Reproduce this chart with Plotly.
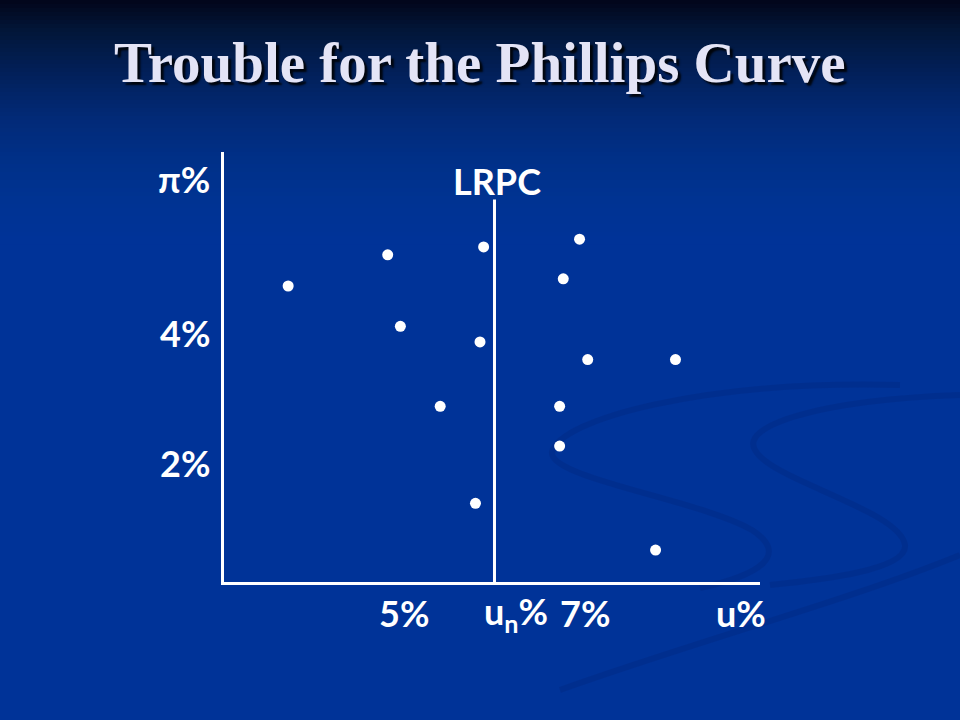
import plotly.graph_objects as go

# ---- data ----
unemployment = [3.72, 4.82, 5.88, 6.94, 6.76, 4.96, 5.84, 7.03, 8.00, 5.40, 6.72, 6.72, 5.79, 7.78]
inflation = [4.72, 5.20, 5.32, 5.44, 4.83, 4.10, 3.86, 3.59, 3.59, 2.87, 2.87, 2.26, 1.38, 0.66]

lrpc_u = 6.0
lrpc_top = 6.05

x_label_pos = [5.0, 6.24, 7.0, 8.72]
x_label_text = ["5%", "u<sub>n</sub>%", "7%", "u%"]
y_label_pos = [4.0, 2.0, 6.37]
y_label_text = ["4%", "2%", "π%"]

title_text = "Trouble for the Phillips Curve"

W, H = 960, 720
X_RANGE = [3.011, 8.934]
Y_RANGE = [0.17, 6.78]

fig = go.Figure()

# LRPC line
fig.add_trace(go.Scatter(
    x=[lrpc_u, lrpc_u], y=[Y_RANGE[0], lrpc_top], mode="lines",
    line=dict(color="white", width=3), hoverinfo="skip", showlegend=False))

# data points
fig.add_trace(go.Scatter(
    x=unemployment, y=inflation, mode="markers",
    marker=dict(color="white", size=11, line=dict(width=0)),
    showlegend=False))

# ---- background gradient (styling) ----
shapes = []
stops = [(0, (2, 5, 26)), (30, (2, 22, 56)), (60, (2, 29, 80)), (90, (2, 36, 101)),
         (120, (2, 42, 120)), (160, (0, 48, 136)), (200, (0, 51, 146)), (240, (0, 51, 152))]

def col_at(y):
    for (y0, c0), (y1, c1) in zip(stops[:-1], stops[1:]):
        if y0 <= y <= y1:
            t = (y - y0) / (y1 - y0)
            return tuple(int(round(a + (b - a) * t)) for a, b in zip(c0, c1))
    return stops[-1][1]

shapes.append(dict(type="rect", xref="paper", yref="paper", x0=0, x1=1, y0=0, y1=1,
                   fillcolor="rgb(0,51,152)", line=dict(width=0), layer="below"))
step = 4
for y in range(0, 244, step):
    c = col_at(y + step / 2)
    shapes.append(dict(type="rect", xref="paper", yref="paper", x0=0, x1=1,
                       y0=1 - (y + step + 0.5) / H, y1=1 - y / H,
                       fillcolor="rgb(%d,%d,%d)" % c, line=dict(width=0), layer="below"))

def px_path(pts):
    out = []
    for cmd, coords in pts:
        s = cmd
        s += " " + " ".join("%.4f,%.4f" % (x / W, 1 - y / H) for x, y in coords)
        out.append(s)
    return " ".join(out)

swirl_color = "rgba(0,30,110,0.22)"
swirls = [
    [("M", [(960, 395)]), ("C", [(820, 400), (740, 425), (755, 450)]),
     ("C", [(770, 480), (900, 510), (905, 545)]), ("C", [(908, 570), (820, 580), (770, 585)])],
    [("M", [(900, 385)]), ("C", [(700, 380), (560, 420), (552, 452)]),
     ("C", [(548, 478), (700, 500), (752, 530)]), ("C", [(790, 555), (760, 575), (700, 588)])],
    [("M", [(560, 690)]), ("C", [(700, 640), (850, 600), (960, 555)])],
]
for sw in swirls:
    shapes.append(dict(type="path", xref="paper", yref="paper", path=px_path(sw),
                       line=dict(color=swirl_color, width=6), layer="below"))

# ---- annotations ----
annotations = []
annotations.append(dict(
    text="<b>" + title_text + "</b>", xref="paper", yref="paper", x=0.5, y=1 - 62 / H,
    xanchor="center", yanchor="middle", showarrow=False,
    font=dict(family="Liberation Serif, Times New Roman, serif", size=57, color="#e4e4f6",
              shadow="3px 3px 2px rgba(0,0,0,0.85)")))

label_font = dict(family="Lato, Noto Sans, sans-serif", size=36, color="white", weight="bold")
for xv, t in zip(x_label_pos, x_label_text):
    annotations.append(dict(text=t, x=xv, xref="x", y=1 - 613 / H, yref="paper",
                            xanchor="center", yanchor="middle", showarrow=False, font=label_font))
for yv, t in zip(y_label_pos, y_label_text):
    annotations.append(dict(text=t, x=212 / W, xref="paper", y=yv, yref="y",
                            xanchor="right", yanchor="middle", showarrow=False, font=label_font))
annotations.append(dict(text="LRPC", x=lrpc_u, xref="x", y=1 - 181 / H, yref="paper",
                        xanchor="center", yanchor="middle", xshift=3, showarrow=False,
                        font=label_font))

fig.update_layout(
    width=W, height=H, margin=dict(l=0, r=0, t=0, b=0),
    paper_bgcolor="rgb(0,51,152)", plot_bgcolor="rgba(0,0,0,0)",
    shapes=shapes, annotations=annotations, showlegend=False,
    xaxis=dict(range=X_RANGE, domain=[224 / W, 760 / W], showline=True, linecolor="white",
               linewidth=3, showgrid=False, zeroline=False, showticklabels=False, ticks="",
               fixedrange=True),
    yaxis=dict(range=Y_RANGE, domain=[1 - 582 / H, 1 - 152 / H], showline=True,
               linecolor="white", linewidth=3, showgrid=False, zeroline=False,
               showticklabels=False, ticks="", fixedrange=True),
)

fig.write_html("out.html", config={"displayModeBar": False},
               post_script="document.body.style.margin='0';document.body.style.padding='0';")
